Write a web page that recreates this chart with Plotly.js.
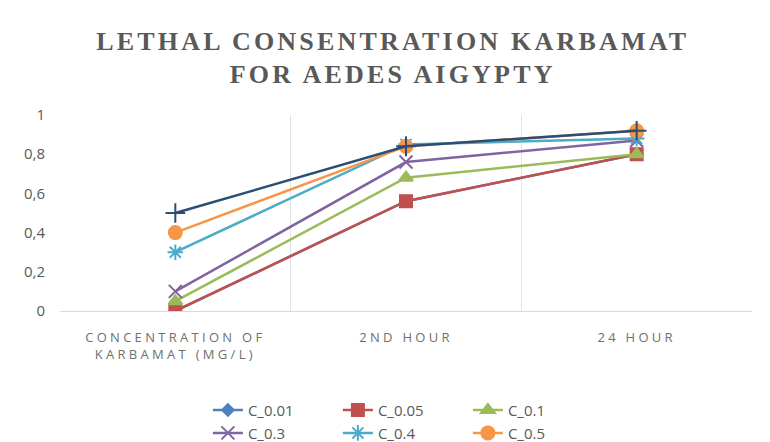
<!DOCTYPE html>
<html>
<head>
<meta charset="utf-8">
<script src="https://cdn.plot.ly/plotly-3.0.1.min.js"></script>
<style>
html,body{margin:0;padding:0;background:#fff;}
#chart{width:770px;height:442px;}
.gtitle{letter-spacing:3.2px;}
.xtick text{letter-spacing:3.3px;}
</style>
</head>
<body>
<div id="chart"></div>
<script>
const categories = ["CONCENTRATION OF<br>KARBAMAT (MG/L)", "2ND HOUR", "24 HOUR"];
const seriesNames = ["C_0.01", "C_0.05", "C_0.1", "C_0.3", "C_0.4", "C_0.5", "C_1"];
const c001 = [0, 0.56, 0.80];
const c005 = [0, 0.56, 0.80];
const c01  = [0.05, 0.68, 0.80];
const c03  = [0.10, 0.76, 0.87];
const c04  = [0.30, 0.85, 0.88];
const c05  = [0.40, 0.84, 0.92];
const c1   = [0.50, 0.84, 0.92];
const yTicks = [0, 0.2, 0.4, 0.6, 0.8, 1];

const values = [c001, c005, c01, c03, c04, c05, c1];
const colors = ["#4F81BD", "#C0504D", "#9BBB59", "#8064A2", "#4BACC6", "#F79646", "#2C4D75"];
const symbols = ["diamond", "square", "triangle-up", "x-thin-open", "asterisk-open", "circle", "cross-thin-open"];
const msizes = [9, 12, 12, 13, 13, 13, 14];
const legends = ["legend", "legend", "legend", "legend2", "legend2", "legend2", "legend"];

const traces = values.map((v, i) => ({
  type: "scatter",
  mode: "lines+markers",
  x: categories,
  y: v,
  name: seriesNames[i],
  legend: legends[i],
  showlegend: i < 6,
  line: {color: colors[i], width: 2.5},
  marker: {symbol: symbols[i], size: msizes[i], color: colors[i], line: {color: colors[i], width: 2}}
}));

const legendCommon = {
  orientation: "h",
  xref: "container", yref: "container",
  xanchor: "left", yanchor: "middle",
  font: {family: "Open Sans, Noto Sans, sans-serif", size: 15, color: "#595959"},
  entrywidth: 85,
  tracegroupgap: 0,
  itemwidth: 30,
  bgcolor: "rgba(0,0,0,0)"
};

const layout = {
  width: 770, height: 442,
  paper_bgcolor: "#fff", plot_bgcolor: "#fff",
  separators: ",.",
  margin: {l: 60, r: 18, t: 115, b: 131},
  title: {
    text: "LETHAL CONSENTRATION KARBAMAT<br>FOR AEDES AIGYPTY",
    font: {family: "Liberation Serif, serif", size: 26, color: "#595959", weight: "bold"},
    x: 0.51, xanchor: "center", y: 0.888, yanchor: "top"
  },
  xaxis: {
    type: "category",
    range: [-0.5, 2.5],
    tickson: "boundaries",
    showgrid: true, gridcolor: "#e3e3e3", gridwidth: 1,
    showline: true, linecolor: "#d9d9d9", linewidth: 1,
    ticks: "",
    ticklabelstandoff: 14,
    tickfont: {family: "Open Sans, Noto Sans, sans-serif", size: 13, color: "#6f6f6f"},
    zeroline: false
  },
  yaxis: {
    range: [0, 1],
    tickvals: yTicks,
    showgrid: false,
    zeroline: false,
    showline: false,
    ticks: "",
    ticklabelstandoff: 14,
    tickfont: {family: "Open Sans, Noto Sans, sans-serif", size: 15, color: "#595959"}
  },
  legend: Object.assign({}, legendCommon, {x: 0.27, y: 0.072}),
  legend2: Object.assign({}, legendCommon, {x: 0.27, y: 0.02}),
  showlegend: true
};

Plotly.newPlot("chart", traces, layout, {displayModeBar: false, staticPlot: true});
</script>
</body>
</html>
